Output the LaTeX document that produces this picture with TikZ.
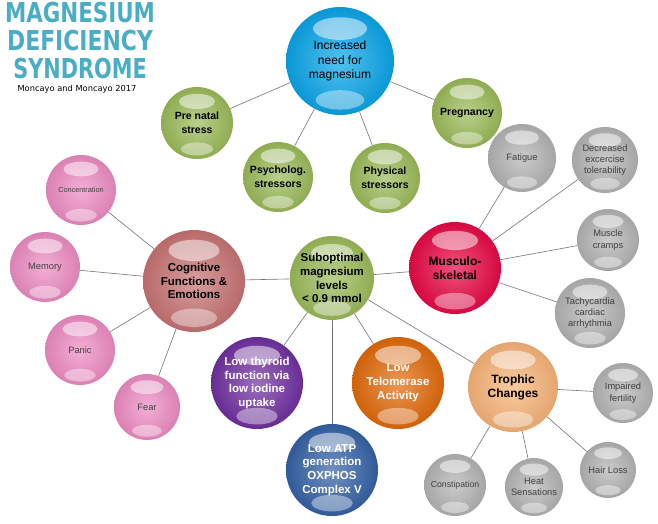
\documentclass[tikz,border=0pt]{standalone}
\usepackage{fontspec}
\setmainfont{Liberation Sans}
\newfontfamily\titlefont{DejaVu Sans}
\usepackage{graphicx}
\usepackage{tikz}
\usetikzlibrary{calc}

\definecolor{titleteal}{RGB}{75,172,198}
\definecolor{needblue}{RGB}{10,165,232}
\definecolor{stressgreen}{RGB}{155,187,89}
\definecolor{cogpink}{RGB}{238,140,195}
\definecolor{cogrose}{RGB}{200,115,115}
\definecolor{musred}{RGB}{232,8,68}
\definecolor{symgrey}{RGB}{180,180,180}
\definecolor{thypurple}{RGB}{112,48,160}
\definecolor{atpblue}{RGB}{52,98,165}
\definecolor{telorange}{RGB}{226,106,10}
\definecolor{tropeach}{RGB}{248,180,120}

\begin{document}
\begin{tikzpicture}[x=1pt, y=-1pt,
  bub/.style 2 args={circle, inner sep=0pt, minimum size=2*#2, align=center,
    inner color=#1!70!white, outer color=#1!92!black,
    path picture={
      \fill[white, opacity=0.5] ([yshift=0.6*#2pt]path picture bounding box.center)
        ellipse [x radius=0.5*#2pt, y radius=0.21*#2pt];
      \fill[white, opacity=0.4] ([yshift=-0.72*#2pt]path picture bounding box.center)
        ellipse [x radius=0.45*#2pt, y radius=0.18*#2pt];
    }},
  bigtxt/.style={font=\bfseries\fontsize{11.5}{13.8}\selectfont},
  midtxt/.style={font=\bfseries\fontsize{10.5}{14}\selectfont},
  smalltxt/.style={font=\fontsize{9.3}{11.3}\selectfont, text=black!75},
  link/.style={draw=black!55, line width=0.6pt}
]
\useasboundingbox (0,0) rectangle (658,523);

% title
\node[anchor=base, inner sep=0pt, text=titleteal,
  font=\titlefont\bfseries\fontsize{27.4}{28}\selectfont] (title1) at (80,22) {\scalebox{0.78}[1]{MAGNESIUM}};
\node[anchor=base, inner sep=0pt, text=titleteal,
  font=\titlefont\bfseries\fontsize{27.4}{28}\selectfont] (title2) at (80,50) {\scalebox{0.8}[1]{DEFICIENCY}};
\node[anchor=base, inner sep=0pt, text=titleteal,
  font=\titlefont\bfseries\fontsize{27.4}{28}\selectfont] (title3) at (80,78) {\scalebox{0.76}[1]{SYNDROME}};
\node[anchor=base, inner sep=0pt, font=\titlefont\fontsize{8.3}{10}\selectfont] (source) at (77,91) {Moncayo and Moncayo 2017};

% increased need and its causes
\node[bub={needblue}{54}, font=\fontsize{12}{14.5}\selectfont] (need) at (340,61) {Increased\\need for\\magnesium};
\node[bub={stressgreen}{36}, midtxt] (prenatal) at (197,123) {Pre natal\\stress};
\node[bub={stressgreen}{35}, midtxt] (psycho) at (278,177) {Psycholog.\\stressors};
\node[bub={stressgreen}{35}, midtxt] (physical) at (385,178) {Physical\\stressors};
\node[bub={stressgreen}{35}, midtxt] (pregnancy) at (467,113) {Pregnancy};

% central node
\node[bub={stressgreen}{42}, bigtxt] (subopt) at (332,278) {Suboptimal\\magnesium\\levels\\< 0.9 mmol};

% cognitive branch
\node[bub={cogrose}{51}, bigtxt] (cognitive) at (194,281) {Cognitive\\Functions \&\\Emotions};
\node[bub={cogpink}{35}, smalltxt, font=\fontsize{7.3}{9}\selectfont] (concentr) at (81,190) {Concentration};
\node[bub={cogpink}{35}, smalltxt] (memory) at (45,267) {Memory};
\node[bub={cogpink}{35}, smalltxt] (panic) at (80,350) {Panic};
\node[bub={cogpink}{33}, smalltxt] (fear) at (147,407) {Fear};

% musculoskeletal branch
\node[bub={musred}{46}, font=\bfseries\fontsize{12}{14}\selectfont] (musculo) at (455,268) {Musculo-\\skeletal};
\node[bub={symgrey}{34}, smalltxt] (fatigue) at (522,158) {Fatigue};
\node[bub={symgrey}{33}, smalltxt] (decreased) at (605,160) {Decreased\\excercise\\tolerability};
\node[bub={symgrey}{31}, smalltxt] (cramps) at (608,240) {Muscle\\cramps};
\node[bub={symgrey}{35}, smalltxt] (tachy) at (590,313) {Tachycardia\\cardiac\\arrhythmia};

% lower branches
\node[bub={thypurple}{46}, bigtxt, text=white] (thyroid) at (257,383) {Low thyroid\\function via\\low iodine\\uptake};
\node[bub={atpblue}{46}, bigtxt, text=white] (atp) at (332,470) {Low ATP\\generation\\OXPHOS\\Complex V};
\node[bub={telorange}{46}, bigtxt, text=white] (telomer) at (398,383) {Low\\Telomerase\\Activity};

% trophic branch
\node[bub={tropeach}{45}, font=\bfseries\fontsize{12}{14}\selectfont] (trophic) at (513,387) {Trophic\\Changes};
\node[bub={symgrey}{30}, smalltxt] (fertility) at (623,393) {Impaired\\fertility};
\node[bub={symgrey}{31}, smalltxt, font=\fontsize{8.7}{10}\selectfont] (constip) at (455,485) {Constipation};
\node[bub={symgrey}{29}, smalltxt] (heat) at (534,487) {Heat\\Sensations};
\node[bub={symgrey}{28}, smalltxt] (hairloss) at (608,470) {Hair Loss};

% connectors
\draw[link] (need) -- (prenatal);
\draw[link] (need) -- (psycho);
\draw[link] (need) -- (physical);
\draw[link] (need) -- (pregnancy);
\draw[link] (subopt) -- (cognitive);
\draw[link] (subopt) -- (musculo);
\draw[link] (subopt) -- (thyroid);
\draw[link] (subopt) -- (atp);
\draw[link] (subopt) -- (telomer);
\draw[link] (subopt) -- (trophic);
\draw[link] (cognitive) -- (concentr);
\draw[link] (cognitive) -- (memory);
\draw[link] (cognitive) -- (panic);
\draw[link] (cognitive) -- (fear);
\draw[link] (musculo) -- (fatigue);
\draw[link] (musculo) -- (decreased);
\draw[link] (musculo) -- (cramps);
\draw[link] (musculo) -- (tachy);
\draw[link] (trophic) -- (fertility);
\draw[link] (trophic) -- (constip);
\draw[link] (trophic) -- (heat);
\draw[link] (trophic) -- (hairloss);
\end{tikzpicture}
\end{document}
